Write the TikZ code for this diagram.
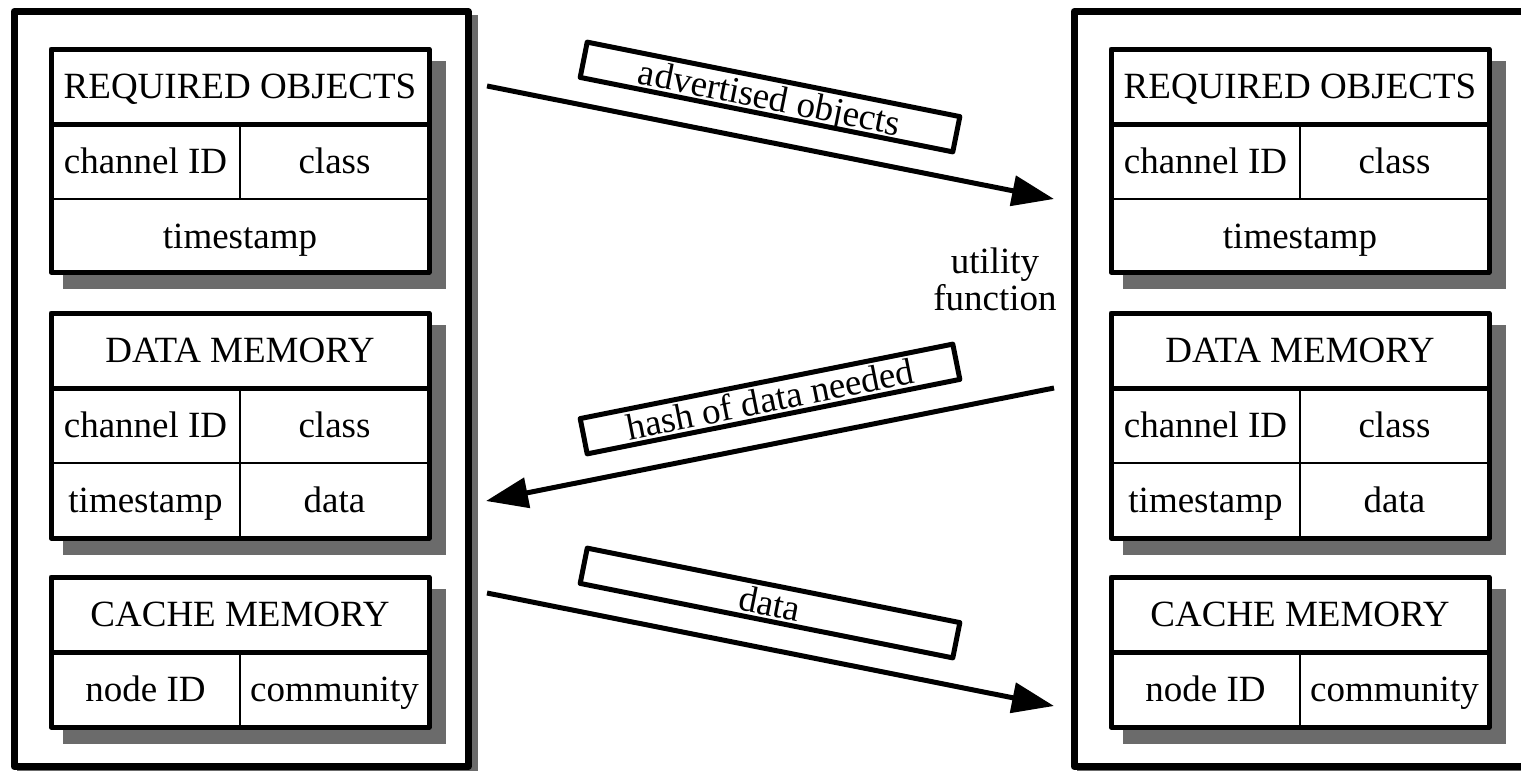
\documentclass[tikz,border=0pt]{standalone}
\usepackage{fontspec}
\setmainfont{Liberation Serif}
\usetikzlibrary{arrows.meta}
\definecolor{shadowgray}{HTML}{6B6B6B}
\tikzset{
  panel/.style={line width=7pt, fill=white},
  tablebox/.style={line width=5pt},
  thinrule/.style={line width=1.3pt},
  headrule/.style={line width=5pt},
  cell/.style={anchor=base, inner sep=0pt},
  msg/.style={line width=5pt, -{Triangle[length=42pt,width=30pt]}},
  tag/.style={draw, line width=5pt, minimum width=380pt, minimum height=36pt,
    inner sep=0pt, text height=28pt, text depth=2pt},
}

\begin{document}
\begin{tikzpicture}[x=1pt, y=-1pt, line join=round, font=\fontsize{37}{37}\selectfont]
\useasboundingbox (0,0) rectangle (1521,771);
\clip (0,0) rectangle (1521,771);
\fill[white] (0,0) rectangle (1521,771);

% the two stations, left and right
\foreach \s/\dx in {L/0,R/1060}{
  \begin{scope}[xshift=\dx]
    % outer frame
    \fill[shadowgray] (17,15) rectangle (478,777);
    \draw[panel] (14,11.5) rectangle (468,766.5);
    % required objects
    \fill[shadowgray] (62.5,60.5) rectangle (445.5,288.5);
    \fill[white] (51,49) rectangle (429,272);
    \draw[thinrule] (51,199) -- (429,199) (240,124) -- (240,199);
    \draw[headrule] (51,124) -- (429,124);
    \draw[tablebox] (51,49) rectangle (429,272);
    \node[cell] (req\s) at (240,98) {REQUIRED OBJECTS};
    \node[cell] (reqch\s) at (145.5,173) {channel ID};
    \node[cell] (reqcl\s) at (334.5,173) {class};
    \node[cell] (reqts\s) at (240,248) {timestamp};
    % data memory
    \fill[shadowgray] (62.5,324.5) rectangle (445.5,554.5);
    \fill[white] (51,313) rectangle (429,538);
    \draw[thinrule] (51,463) -- (429,463) (240,388) -- (240,538);
    \draw[headrule] (51,388) -- (429,388);
    \draw[tablebox] (51,313) rectangle (429,538);
    \node[cell] (dat\s) at (240,362) {DATA MEMORY};
    \node[cell] (datch\s) at (145.5,437) {channel ID};
    \node[cell] (datcl\s) at (334.5,437) {class};
    \node[cell] (datts\s) at (145.5,512) {timestamp};
    \node[cell] (datdt\s) at (334.5,512) {data};
    % cache memory
    \fill[shadowgray] (62.5,588.5) rectangle (445.5,743.5);
    \fill[white] (51,577) rectangle (429,727);
    \draw[thinrule] (240,652) -- (240,727);
    \draw[headrule] (51,652) -- (429,652);
    \draw[tablebox] (51,577) rectangle (429,727);
    \node[cell] (cac\s) at (240,626) {CACHE MEMORY};
    \node[cell] (cacid\s) at (145.5,701) {node ID};
    \node[cell] (caccm\s) at (334.5,701) {community};
  \end{scope}
}

% messages
\coordinate (advS) at (487,86);
\coordinate (advE) at (1054,199);
\coordinate (hashS) at (1054,388);
\coordinate (hashE) at (486,501);
\coordinate (dataS) at (487,593);
\coordinate (dataE) at (1054,706);
\draw[msg] (advS) -- (advE);
\draw[msg] (hashS) -- (hashE);
\draw[msg] (dataS) -- (dataE);

\node[tag, rotate=-11.3] (advtag) at (770,97) {advertised objects};
\node[tag, rotate=11.3] (hashtag) at (770,399) {hash of data needed};
\node[tag, rotate=-11.3] (datatag) at (770,603) {data};

\node[align=center, inner sep=0pt] (util) at (995,279) {utility\\function};
\end{tikzpicture}
\end{document}
